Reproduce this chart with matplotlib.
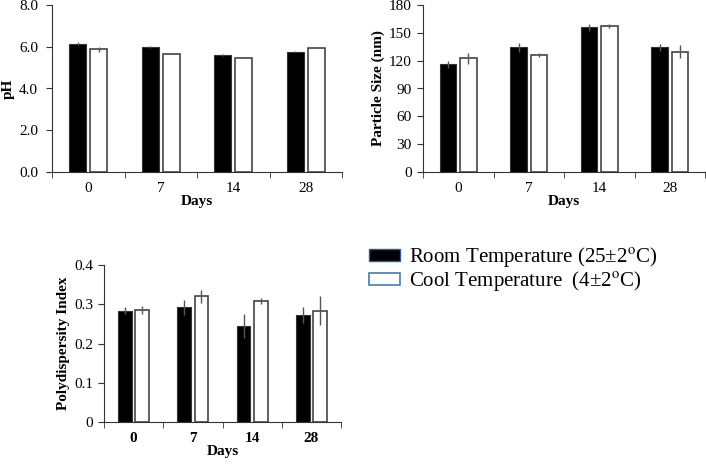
import matplotlib
matplotlib.use("Agg")
import matplotlib.pyplot as plt
from matplotlib.patches import Patch
import numpy as np

plt.rcParams["font.family"] = ["Liberation Serif", "DejaVu Serif"]
plt.rcParams["mathtext.fontset"] = "stix"

days = ["0", "7", "14", "28"]

ph_room = [6.15, 5.97, 5.62, 5.77]
ph_room_err = [0.08, 0.05, 0.04, 0.03]
ph_cool = [5.87, 5.67, 5.47, 5.95]
ph_cool_err = [0.10, 0.02, 0.02, 0.02]

size_room = [116, 134.5, 156, 134.5]
size_room_err = [4, 5, 4, 4]
size_cool = [122.5, 126, 157, 129.5]
size_cool_err = [6, 2, 2, 7]

pdi_room = [0.284, 0.292, 0.245, 0.273]
pdi_room_err = [0.008, 0.02, 0.03, 0.02]
pdi_cool = [0.286, 0.320, 0.308, 0.284]
pdi_cool_err = [0.01, 0.017, 0.008, 0.038]

W, H = 706, 469
fig = plt.figure(figsize=(W / 100, H / 100), dpi=100)


def px_axes(left, top, right, bottom):
    return fig.add_axes([left / W, 1 - bottom / H, (right - left) / W, (bottom - top) / H])


def draw_panel(ax, room, room_err, cool, cool_err, ylim, yticks, ylabels, ylabel,
               bold_x, ypad):
    x = np.arange(len(days))
    w = 0.235
    off = 0.145
    ekw = dict(ecolor="#555555", elinewidth=1.0, capsize=0)
    ax.bar(x - off, room, w, yerr=room_err, color="black", edgecolor="#333333",
           linewidth=0.8, error_kw=ekw)
    ax.bar(x + off, cool, w, yerr=cool_err, color="white", edgecolor="#444444",
           linewidth=1.2, error_kw=ekw)
    ax.set_xlim(-0.5, len(days) - 0.5)
    ax.set_ylim(*ylim)
    ax.set_yticks(yticks)
    ax.set_yticklabels(ylabels, fontsize=11)
    ax.set_xticks(x)
    ax.set_xticklabels(days, fontsize=11, fontweight="bold" if bold_x else "normal")
    ax.set_xticks(np.arange(-0.5, len(days)), minor=True)
    ax.tick_params(axis="x", which="major", length=0, pad=7)
    ax.tick_params(axis="x", which="minor", length=4, color="#333333")
    ax.tick_params(axis="y", length=4, color="#333333", pad=ypad)
    for s in ["top", "right"]:
        ax.spines[s].set_visible(False)
    for s in ["left", "bottom"]:
        ax.spines[s].set_color("#333333")
    ax.set_xlabel("Days", fontsize=11, fontweight="bold", labelpad=0)
    ax.set_ylabel(ylabel, fontsize=11, fontweight="bold", labelpad=3)


ax1 = px_axes(52, 5, 342, 172)
draw_panel(ax1, ph_room, ph_room_err, ph_cool, ph_cool_err, (0, 8),
           [0, 2, 4, 6, 8], ["0.0", "2.0", "4.0", "6.0", "8.0"], "pH", False, 6)

ax2 = px_axes(423, 5, 705, 172)
ticks2 = [0, 30, 60, 90, 120, 150, 180]
draw_panel(ax2, size_room, size_room_err, size_cool, size_cool_err, (0, 180),
           ticks2, [str(t) for t in ticks2], "Particle Size (nm)", False, 4)

ax3 = px_axes(104, 265, 341, 422)
draw_panel(ax3, pdi_room, pdi_room_err, pdi_cool, pdi_cool_err, (0, 0.4),
           [0, 0.1, 0.2, 0.3, 0.4], ["0", "0.1", "0.2", "0.3", "0.4"],
           "Polydispersity Index", True, 4)

handles = [
    Patch(facecolor="black", edgecolor="#2f5f8f", linewidth=1.0),
    Patch(facecolor="white", edgecolor="#4a7ab0", linewidth=1.2),
]
labels = ["Room Temperature (25\u00b12$^{\\mathrm{o}}$C)",
          "Cool Temperature  (4\u00b12$^{\\mathrm{o}}$C)"]
fig.legend(handles, labels, loc="upper left", bbox_to_anchor=(361 / W, 1 - 237 / H),
           frameon=False, fontsize=15, handlelength=1.45, handleheight=0.55,
           handletextpad=0.45, labelspacing=0.0, borderaxespad=0)

fig.savefig("out.png", dpi=100)
